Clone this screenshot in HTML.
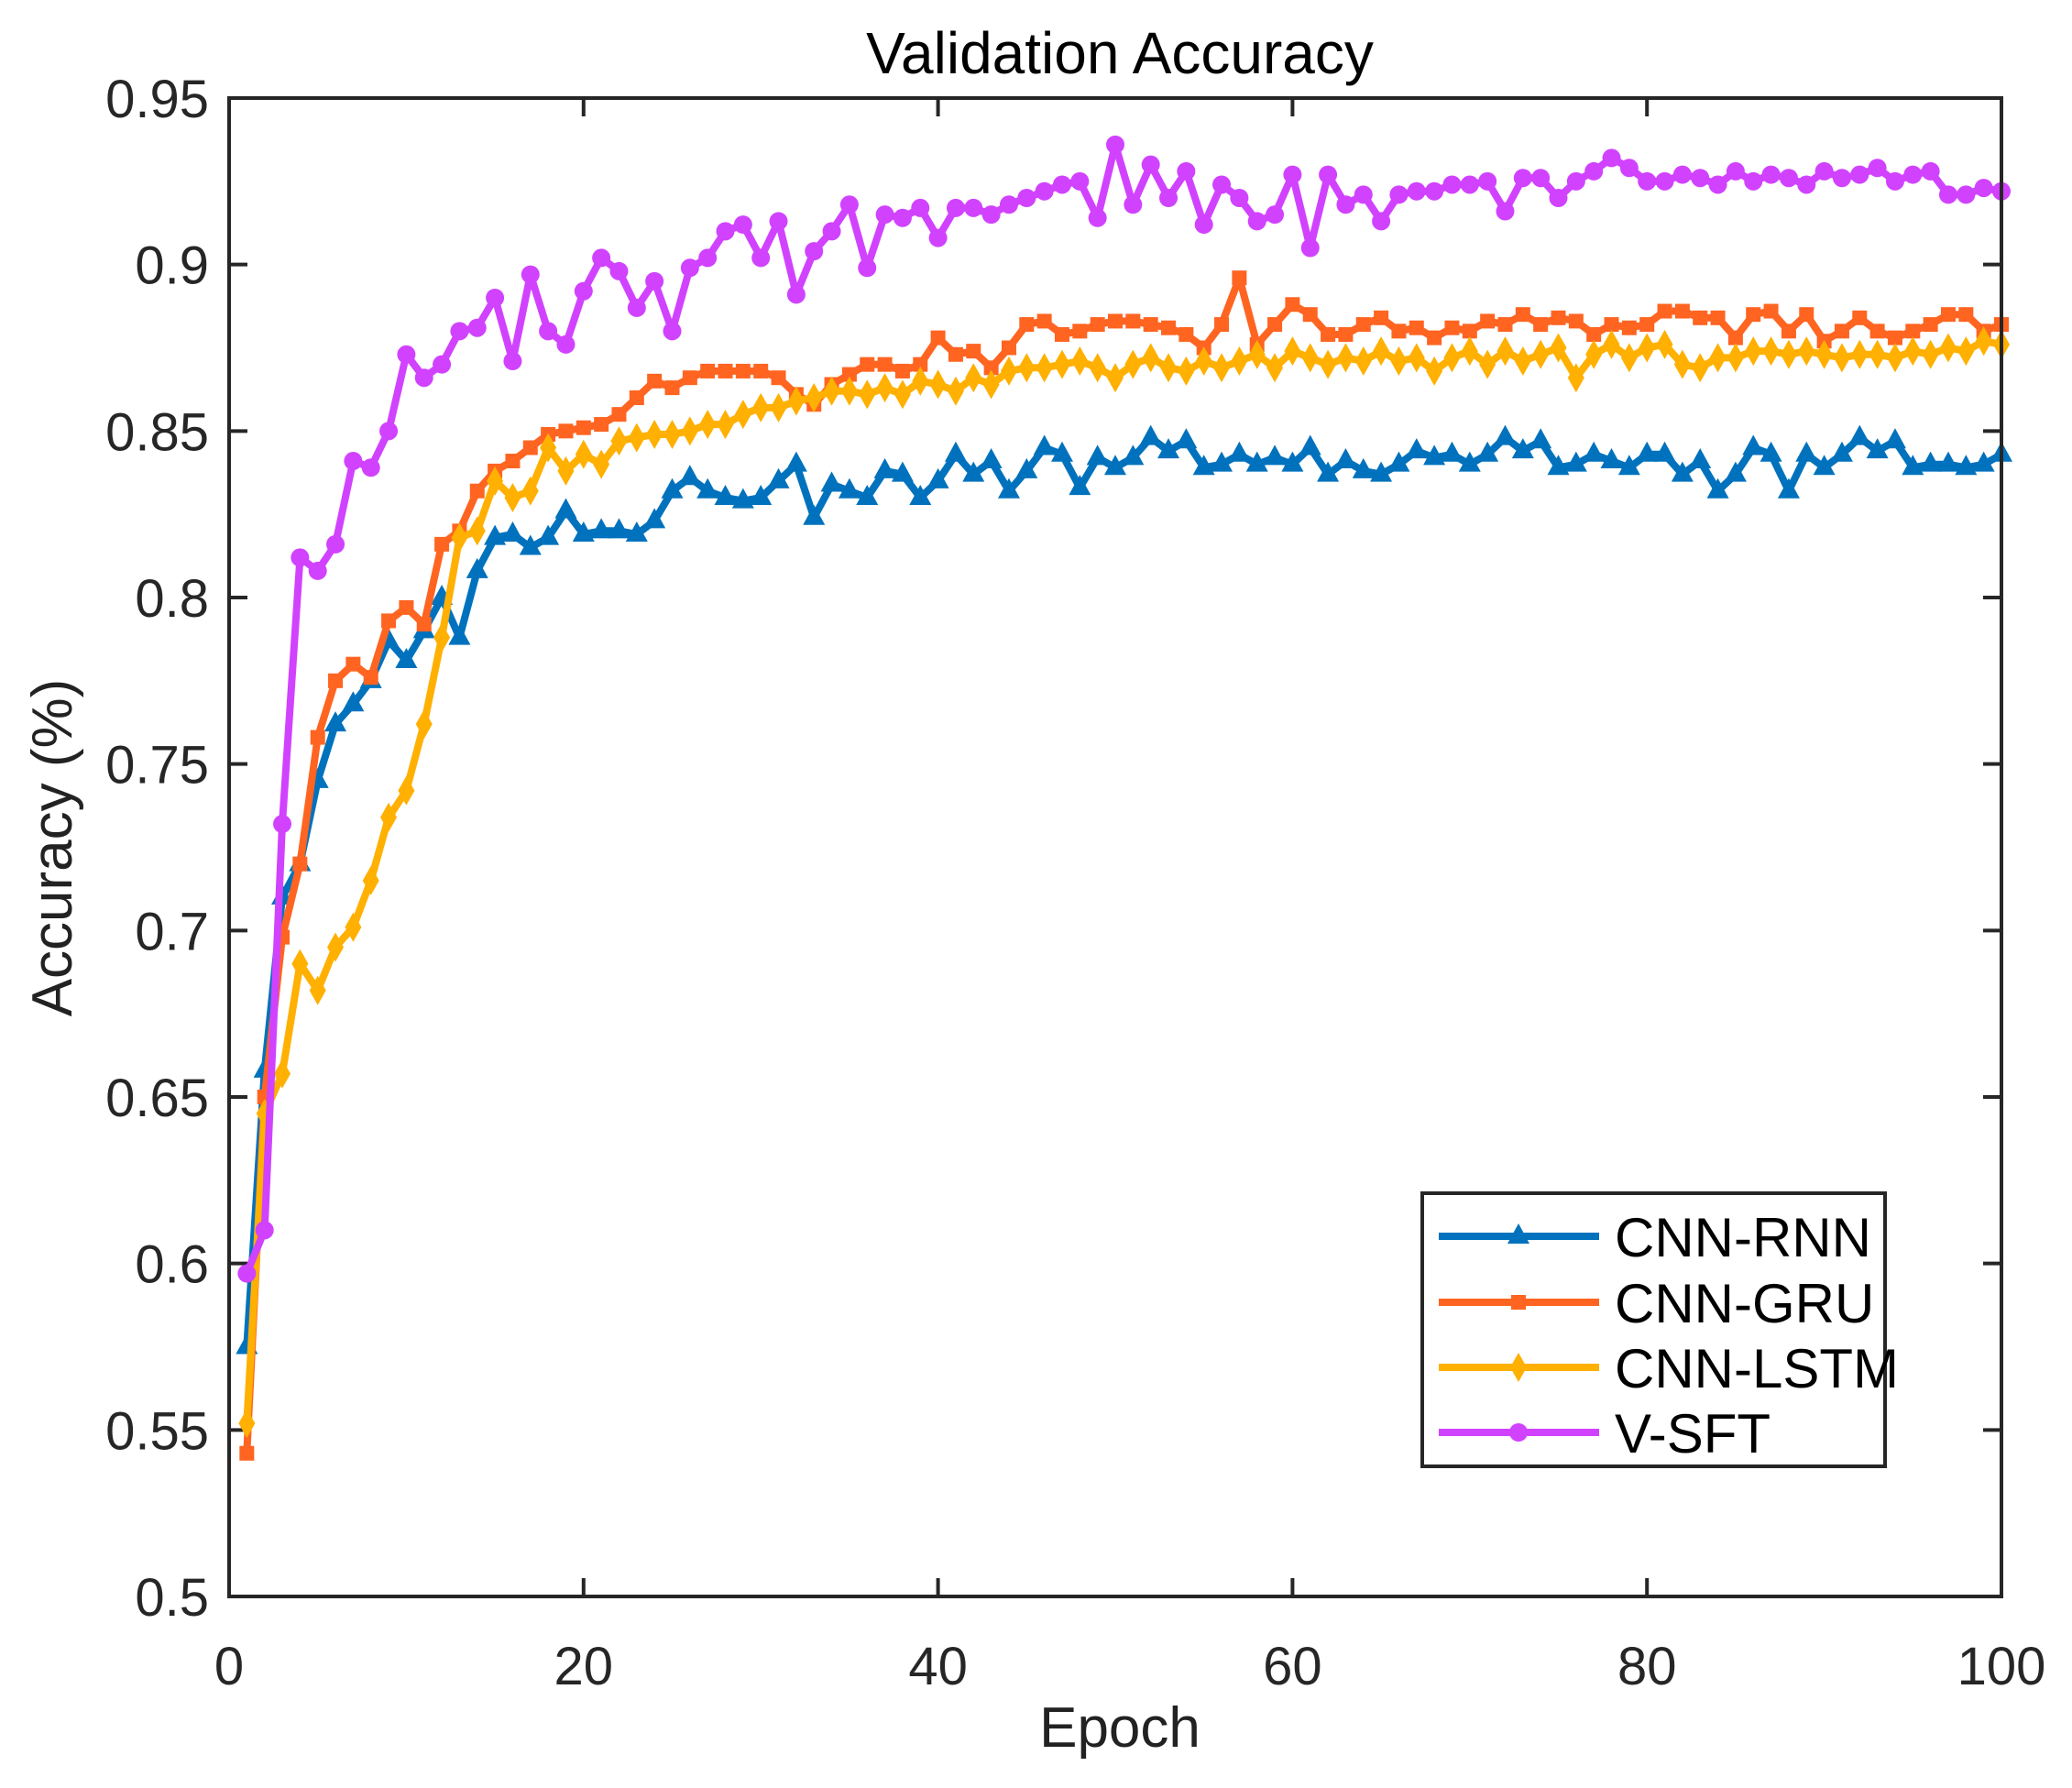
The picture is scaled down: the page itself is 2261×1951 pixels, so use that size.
<!DOCTYPE html>
<html><head><meta charset="utf-8"><style>
html,body{margin:0;padding:0;background:#fff;}
svg{display:block;font-family:"Liberation Sans",Arial,sans-serif;}
</style></head><body>
<svg id="chart" width="2261" height="1951" viewBox="0 0 2261 1951" xmlns="http://www.w3.org/2000/svg">
<rect x="0" y="0" width="2261" height="1951" fill="#fff"/>
<text x="1222" y="80" font-size="64" text-anchor="middle" fill="#000">Validation Accuracy</text>
<text x="1222" y="1906" font-size="62" text-anchor="middle" fill="#222">Epoch</text>
<text transform="translate(78,925) rotate(-90)" font-size="62" text-anchor="middle" fill="#222">Accuracy (%)</text>
<g id="ticks"></g>
<g id="series"></g>
<rect x="250" y="107" width="1934" height="1635" fill="none" stroke="#262626" stroke-width="4"/>
<g id="legend"></g>
</svg>
<script>
const yTicks = [0.5,0.55,0.6,0.65,0.7,0.75,0.8,0.85,0.9,0.95];
const yTickLabels = ["0.5","0.55","0.6","0.65","0.7","0.75","0.8","0.85","0.9","0.95"];
const xTicks = [0,20,40,60,80,100];
const xTickLabels = ["0","20","40","60","80","100"];
const seriesNames = ["CNN-RNN","CNN-GRU","CNN-LSTM","V-SFT"];
const cnnRnn = [0.575,0.658,0.71,0.72,0.745,0.762,0.768,0.775,0.787,0.781,0.79,0.80,0.788,0.808,0.818,0.819,0.815,0.818,0.826,0.819,0.82,0.82,0.819,0.823,0.832,0.836,0.832,0.83,0.829,0.83,0.835,0.84,0.824,0.834,0.832,0.83,0.838,0.837,0.83,0.835,0.843,0.837,0.841,0.832,0.838,0.845,0.843,0.833,0.842,0.839,0.842,0.848,0.844,0.847,0.839,0.84,0.843,0.84,0.842,0.84,0.845,0.837,0.841,0.838,0.837,0.84,0.844,0.842,0.843,0.84,0.843,0.848,0.844,0.847,0.839,0.84,0.843,0.841,0.839,0.843,0.843,0.837,0.841,0.832,0.837,0.845,0.843,0.832,0.843,0.839,0.843,0.848,0.844,0.847,0.839,0.84,0.84,0.839,0.84,0.843];
const cnnGru = [0.543,0.65,0.698,0.72,0.758,0.775,0.78,0.776,0.793,0.797,0.792,0.816,0.82,0.832,0.838,0.841,0.845,0.849,0.85,0.851,0.852,0.855,0.86,0.865,0.863,0.866,0.868,0.868,0.868,0.868,0.866,0.861,0.858,0.864,0.867,0.87,0.87,0.868,0.87,0.878,0.873,0.874,0.869,0.875,0.882,0.883,0.879,0.88,0.882,0.883,0.883,0.882,0.881,0.879,0.875,0.882,0.896,0.876,0.882,0.888,0.885,0.879,0.879,0.882,0.884,0.88,0.881,0.878,0.881,0.88,0.883,0.882,0.885,0.882,0.884,0.883,0.879,0.882,0.881,0.882,0.886,0.886,0.884,0.884,0.878,0.885,0.886,0.88,0.885,0.877,0.88,0.884,0.88,0.878,0.88,0.882,0.885,0.885,0.88,0.882];
const cnnLstm = [0.552,0.645,0.657,0.69,0.682,0.695,0.701,0.715,0.734,0.742,0.762,0.788,0.818,0.82,0.835,0.83,0.832,0.845,0.838,0.843,0.84,0.847,0.848,0.849,0.849,0.85,0.852,0.852,0.855,0.857,0.857,0.859,0.86,0.862,0.862,0.861,0.863,0.861,0.865,0.864,0.862,0.866,0.864,0.868,0.869,0.869,0.87,0.871,0.869,0.866,0.87,0.872,0.869,0.868,0.871,0.869,0.871,0.873,0.869,0.874,0.872,0.87,0.872,0.871,0.874,0.871,0.872,0.868,0.872,0.874,0.87,0.874,0.871,0.873,0.875,0.866,0.873,0.876,0.872,0.875,0.876,0.87,0.869,0.872,0.872,0.874,0.874,0.873,0.874,0.873,0.872,0.873,0.873,0.872,0.874,0.873,0.875,0.874,0.877,0.876];
const vSft = [0.597,0.61,0.732,0.812,0.808,0.816,0.841,0.839,0.85,0.873,0.866,0.87,0.88,0.881,0.89,0.871,0.897,0.88,0.876,0.892,0.902,0.898,0.887,0.895,0.88,0.899,0.902,0.91,0.912,0.902,0.913,0.891,0.904,0.91,0.918,0.899,0.915,0.914,0.917,0.908,0.917,0.917,0.915,0.918,0.92,0.922,0.924,0.925,0.914,0.936,0.918,0.93,0.92,0.928,0.912,0.924,0.92,0.913,0.915,0.927,0.905,0.927,0.918,0.921,0.913,0.921,0.922,0.922,0.924,0.924,0.925,0.916,0.926,0.926,0.92,0.925,0.928,0.932,0.929,0.925,0.925,0.927,0.926,0.924,0.928,0.925,0.927,0.926,0.924,0.928,0.926,0.927,0.929,0.925,0.927,0.928,0.921,0.921,0.923,0.922];

const NS = "http://www.w3.org/2000/svg";
const L=250,R=2184,T=107,B=1742;
const xS = e => L + (e-0)/(100-0)*(R-L);
const yS = v => B - (v-0.5)/(0.95-0.5)*(B-T);
function mk(tag, attrs, parent){const el=document.createElementNS(NS,tag);for(const k in attrs)el.setAttribute(k,attrs[k]);parent.appendChild(el);return el;}

const tg=document.getElementById('ticks');
yTicks.forEach((v,i)=>{
  const y=yS(v);
  const a=mk('line',{x1:L,y1:y,x2:L+20,y2:y,stroke:'#262626','stroke-width':4},tg);
  
  
  const b=mk('line',{x1:R-20,y1:y,x2:R,y2:y,stroke:'#262626','stroke-width':4},tg);
  
  
  const t=mk('text',{x:228,y:y+21,'font-size':58,'text-anchor':'end',fill:'#262626'},tg);
  t.textContent=yTickLabels[i];
  
  
});
xTicks.forEach((v,i)=>{
  const x=xS(v);
  const a=mk('line',{x1:x,y1:B,x2:x,y2:B-20,stroke:'#262626','stroke-width':4},tg);
  
  
  const b=mk('line',{x1:x,y1:T,x2:x,y2:T+20,stroke:'#262626','stroke-width':4},tg);
  
  
  const t=mk('text',{x:x,y:1838,'font-size':58,'text-anchor':'middle',fill:'#262626'},tg);
  t.textContent=xTickLabels[i];
  
  
});

const colors=['#0072BD','#FF6421','#FFB000','#D142FF'];
const markers=['tri','sq','dia','circ'];
const data=[cnnRnn,cnnGru,cnnLstm,vSft];
function marker(type,x,y,c,g){
  let el;
  if(type==='tri') el=mk('polygon',{points:`${x},${y-14} ${x-12},${y+8} ${x+12},${y+8}`,fill:c},g);
  else if(type==='sq') el=mk('rect',{x:x-8,y:y-8,width:16,height:16,fill:c},g);
  else if(type==='dia') el=mk('polygon',{points:`${x},${y-16} ${x+9},${y} ${x},${y+16} ${x-9},${y}`,fill:c},g);
  else el=mk('circle',{cx:x,cy:y,r:10,fill:c},g);
  return el;
}
const sg=document.getElementById('series');
data.forEach((arr,si)=>{
  const g=mk('g',{},sg);
  
  
  const pts=arr.map((v,i)=>xS(i+1).toFixed(1)+','+yS(v).toFixed(1)).join(' ');
  const pl=mk('polyline',{points:pts,fill:'none',stroke:colors[si],'stroke-width':8,'stroke-linejoin':'round'},g);
  
  
  arr.forEach((v,i)=>{
    const m=marker(markers[si],xS(i+1),yS(v),colors[si],g);
    
    
  });
});

const lg=document.getElementById('legend');
const box=mk('rect',{x:1552,y:1302,width:505,height:298,fill:'#fff',stroke:'#262626','stroke-width':4},lg);


const rowsY=[1349,1421,1492,1563];
seriesNames.forEach((n,i)=>{
  const g=mk('g',{},lg);
  
  
  mk('line',{x1:1570,y1:rowsY[i],x2:1745,y2:rowsY[i],stroke:colors[i],'stroke-width':8},g);
  marker(markers[i],1657,rowsY[i],colors[i],g);
  const t=mk('text',{x:1762,y:rowsY[i]+22,'font-size':60,fill:'#000'},g);
  t.textContent=n;
  
  
});
</script>
</body></html>
